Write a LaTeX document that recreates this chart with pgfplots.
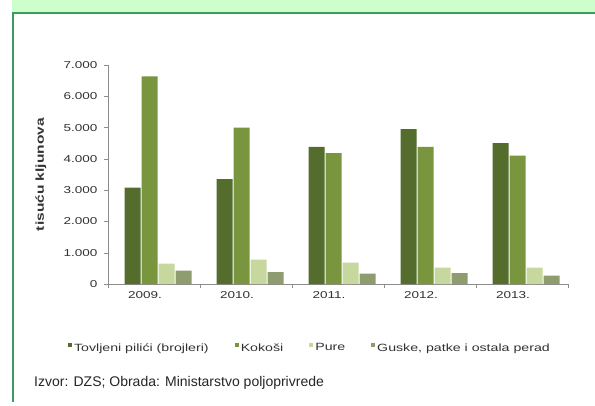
\documentclass[border=0pt]{standalone}
\usepackage{pgfplots}
\pgfplotsset{compat=1.18}
\usepackage{fontspec}
\setmainfont{Liberation Sans}
\newfontfamily\chartfont{Liberation Sans}[FakeStretch=1.35]
\definecolor{headgreen}{RGB}{204,255,204}
\definecolor{bordergreen}{RGB}{60,155,95}
\definecolor{cA}{RGB}{84,108,44}
\definecolor{cB}{RGB}{121,150,62}
\definecolor{cC}{RGB}{198,216,158}
\definecolor{cD}{RGB}{142,156,112}
\definecolor{txt}{RGB}{50,50,50}
\definecolor{axgray}{RGB}{140,140,140}
\begin{document}
\begin{tikzpicture}
\path[use as bounding box] (0pt,0pt) rectangle (595pt,405pt);
\fill[white] (0pt,0pt) rectangle (595pt,405pt);
\fill[headgreen] (12pt,393pt) rectangle (595pt,405pt);
\draw[bordergreen, line width=2pt] (12pt,392pt) -- (595pt,392pt);
\draw[bordergreen, line width=1.5pt] (12.75pt,393pt) -- (12.75pt,3pt);
\node[anchor=base west, font=\fontsize{14}{16}\selectfont, text=black!85, inner sep=0pt] at (34pt,19pt) {Izvor: DZS; Obrada: Ministarstvo poljoprivrede};
\begin{axis}[
  at={(154pt,121pt)}, anchor=origin,
  scale only axis, width=460pt, height=219pt,
  xmin=-0.5, xmax=4.5, ymin=0, ymax=7000,
  axis x line=bottom, axis y line=left,
  axis line style={axgray, -},
  ybar, bar width=16pt,
  xtick={0,1,2,3,4},
  xticklabels={2009.,2010.,2011.,2012.,2013.},
  major x tick style={draw=none},
  minor xtick={-0.5,0.5,1.5,2.5,3.5,4.5},
  minor tick length=4pt,
  minor x tick style={axgray},
  tick align=outside,
  major tick length=4pt,
  ytick={0,1000,...,7000},
  y tick style={axgray},
  xticklabel style={font=\chartfont\fontsize{10}{12}\selectfont, text=txt, xshift=-9pt},
  yticklabel style={font=\chartfont\fontsize{10}{12}\selectfont, text=txt, xshift=-3pt},
  /pgf/number format/.cd, 1000 sep={.}, assume math mode=true,
  /pgfplots/.cd,
  ylabel={\textbf{tisuću kljunova}},
  every axis y label/.style={at={(-0.1457,0.5)}, anchor=center, rotate=90,
     font=\chartfont\fontsize{11.5}{13}\selectfont, text=black!80},
  legend columns=4,
  legend style={at={(0.439,-0.292)}, anchor=center, draw=none, fill=none,
     font=\chartfont\fontsize{10.5}{12}\selectfont, text=txt,
     /tikz/every even column/.append style={column sep=24pt}},
  legend image code/.code={\fill[#1] (0pt,1pt) rectangle (4pt,5pt);},
]
\addplot[fill=cA, draw=none, bar shift=-21.5pt] coordinates {(0,3080) (1,3350) (2,4380) (3,4950) (4,4500)};
\addplot[fill=cB, draw=none, bar shift=-4.5pt] coordinates {(0,6640) (1,5000) (2,4180) (3,4380) (4,4100)};
\addplot[fill=cC, draw=none, bar shift=12.5pt] coordinates {(0,650) (1,780) (2,680) (3,520) (4,520)};
\addplot[fill=cD, draw=none, bar shift=29.5pt] coordinates {(0,430) (1,380) (2,330) (3,350) (4,270)};
\legend{Tovljeni pilići (brojleri), Kokoši, Pure, {Guske, patke i ostala perad}}
\end{axis}
\end{tikzpicture}
\end{document}
